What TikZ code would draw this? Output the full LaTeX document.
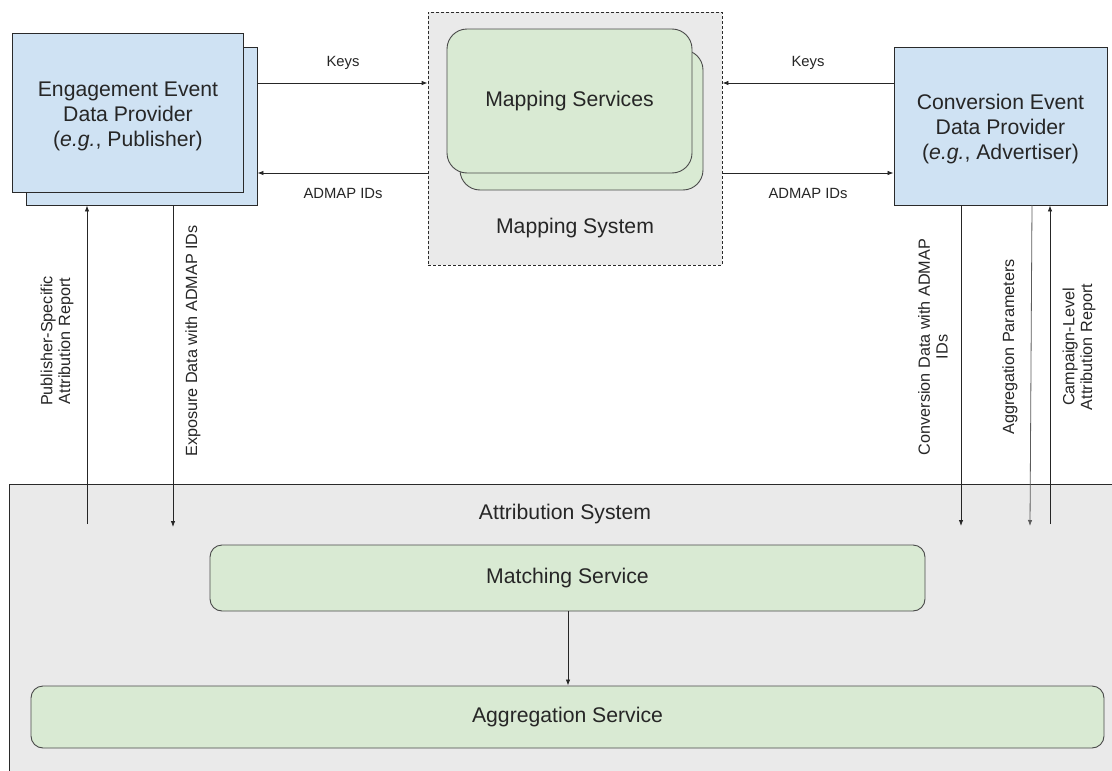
\documentclass[tikz,border=0pt]{standalone}
\usepackage{fontspec}
\setmainfont{Liberation Sans}
\usetikzlibrary{arrows.meta,calc}

\definecolor{provblue}{HTML}{CFE2F3}
\definecolor{svcgreen}{HTML}{D9EAD3}
\definecolor{sysgray}{HTML}{EAEAEA}
\definecolor{ink}{HTML}{262626}
\definecolor{edge}{HTML}{2A2A2A}
\definecolor{svcedge}{HTML}{4A4A4A}

\tikzset{
  big/.style={font=\fontsize{21.2}{25}\selectfont, text=ink, align=center},
  small/.style={font=\fontsize{14.8}{17.5}\selectfont, text=ink, align=center},
  vlabel/.style={font=\fontsize{16.2}{17.8}\selectfont, text=ink, align=center, rotate=90},
  provider/.style={draw=edge, line width=0.9pt, fill=provblue, inner sep=0pt},
  service/.style={draw=svcedge, line width=0.9pt, fill=svcgreen, rounded corners=12pt, inner sep=0pt},
  system/.style={fill=sysgray, inner sep=0pt},
  arr/.style={draw=ink, line width=0.8pt, -{Latex[length=6pt,width=4.5pt]}},
}

\begin{document}
\begin{tikzpicture}[x=1pt,y=-1pt]
\clip (0,0) rectangle (1112,771);
\fill[white] (0,0) rectangle (1112,771);

% ---- Mapping System (dashed container) ----
\node[system, draw=edge, line width=0.8pt, dash pattern=on 3pt off 2pt,
      minimum width=294pt, minimum height=253pt] (mapsys) at (575,138.5) {};
\node[service, rounded corners=20pt, minimum width=243pt, minimum height=140pt] (mapb) at (581.5,120) {};
\node[service, rounded corners=20pt, minimum width=245pt, minimum height=144pt] (mapf) at (569.5,101) {};
\node[big] (maptxt) at (mapf.center) {Mapping Services};
\node[big] (maplbl) at (575,228) {Mapping System};

% ---- Engagement event data provider (stacked) ----
\node[provider, minimum width=231pt, minimum height=158pt] (pubb) at (141.5,126) {};
\node[provider, minimum width=231pt, minimum height=159pt] (pubf) at (127.5,112.5) {};
\node[big] (pubtxt) at (128,116) {Engagement Event\\Data Provider\\(\textit{e.g.}, Publisher)};

% ---- Conversion event data provider ----
\node[provider, minimum width=213pt, minimum height=158pt] (conv) at (1000.5,126) {};
\node[big] (convtxt) at (1000.5,129) {Conversion Event\\Data Provider\\(\textit{e.g.}, Advertiser)};

% ---- Attribution System (runs off the right and bottom edges) ----
\node[system, draw=edge, line width=0.8pt, minimum width=1130pt, minimum height=320pt,
      anchor=north west] (attr) at (9,484) {};
\node[big] (attrlbl) at (565,514) {Attribution System};
\node[service, minimum width=715pt, minimum height=66pt] (match) at (567.5,578) {};
\node[big] at (match.center) {Matching Service};
\node[service, minimum width=1073pt, minimum height=62pt] (aggr) at (567.5,717) {};
\node[big] at (aggr.center) {Aggregation Service};
\draw[arr] (match.south -| 568,0) -- (aggr.north -| 568,0);

% ---- Keys / ADMAP IDs exchange ----
\coordinate (yKeys) at (0,83);
\coordinate (yIds) at (0,173);
\draw[arr] (pubb.east |- yKeys) -- (mapsys.west |- yKeys);
\draw[arr] (mapsys.west |- yIds) -- (pubb.east |- yIds);
\draw[arr] (conv.west |- yKeys) -- (mapsys.east |- yKeys);
\draw[arr] (mapsys.east |- yIds) -- (conv.west |- yIds);
\node[small] at (343,63) {Keys};
\node[small] at (343,193) {ADMAP IDs};
\node[small] at (808,63) {Keys};
\node[small] at (808,193) {ADMAP IDs};

% ---- Publisher side flows ----
\coordinate (pubIn) at (87,524);
\coordinate (expOut) at (173,527);
\draw[arr] (pubIn) -- (pubIn |- pubb.south);
\draw[arr] (expOut |- pubb.south) -- (expOut);
\node[vlabel] at (57,341) {Publisher-Specific\\Attribution Report};
\node[vlabel] at (193,341) {Exposure Data with ADMAP IDs};

% ---- Advertiser side flows ----
\coordinate (convOut) at (961,526);
\coordinate (aggIn) at (1030,526);
\coordinate (aggTop) at (1032,205);
\coordinate (campIn) at (1050,524);
\draw[arr] (convOut |- conv.south) -- (convOut);
\draw[arr, draw=ink!75] (aggTop) -- (aggIn);
\draw[arr] (campIn) -- (campIn |- conv.south);
\node[vlabel] at (933,347) {Conversion Data with ADMAP\\IDs};
\node[vlabel] at (1010,347) {Aggregation Parameters};
\node[vlabel] at (1079,347) {Campaign-Level\\Attribution Report};
\end{tikzpicture}
\end{document}
